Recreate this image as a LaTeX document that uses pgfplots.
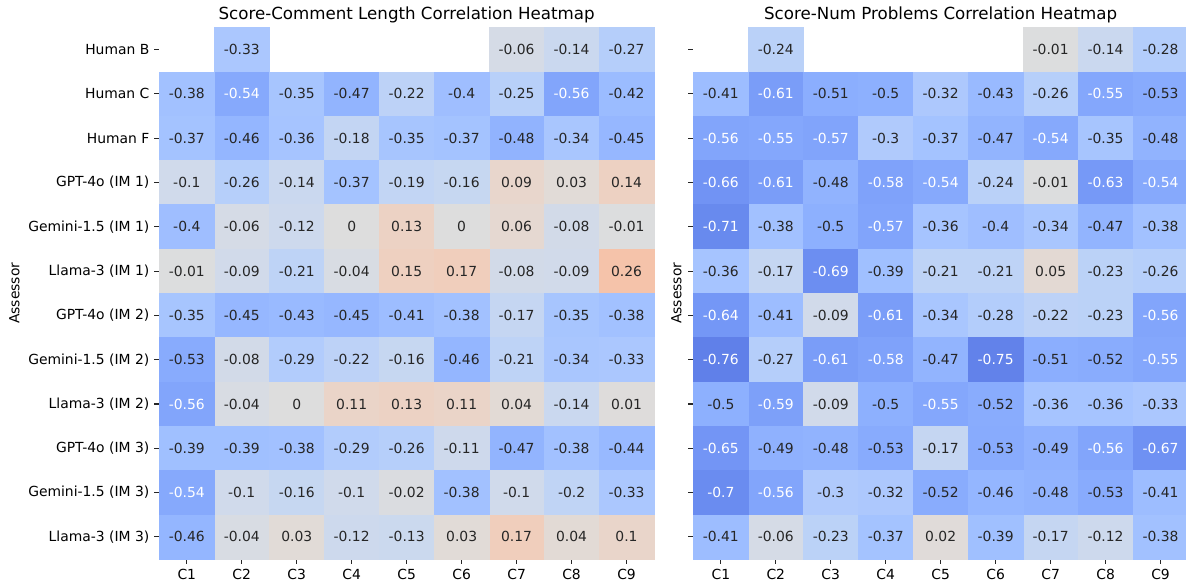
\documentclass[border=0pt]{standalone}
\usepackage{fontspec}
\setmainfont{DejaVu Sans}
\usepackage{pgfplots}
\usepackage{pgfplotstable}
\pgfplotsset{compat=1.18}

\definecolor{txt}{HTML}{262626}

\pgfplotsset{colormap={coolwarm}{
rgb255(0cm)=(59,76,192); rgb255(1cm)=(68,90,204); rgb255(2cm)=(77,104,215); rgb255(3cm)=(87,117,225);
rgb255(4cm)=(98,130,234); rgb255(5cm)=(108,142,241); rgb255(6cm)=(119,154,247); rgb255(7cm)=(130,165,251);
rgb255(8cm)=(141,176,254); rgb255(9cm)=(152,185,255); rgb255(10cm)=(163,194,255); rgb255(11cm)=(174,201,253);
rgb255(12cm)=(184,208,249); rgb255(13cm)=(194,213,244); rgb255(14cm)=(204,217,238); rgb255(15cm)=(213,219,230);
rgb255(16cm)=(221,221,221); rgb255(17cm)=(229,216,209); rgb255(18cm)=(236,211,197); rgb255(19cm)=(241,204,184);
rgb255(20cm)=(245,196,172); rgb255(21cm)=(247,187,160); rgb255(22cm)=(247,177,148); rgb255(23cm)=(247,166,135);
rgb255(24cm)=(244,154,123); rgb255(25cm)=(241,141,111); rgb255(26cm)=(236,127,99); rgb255(27cm)=(229,112,88);
rgb255(28cm)=(222,96,77); rgb255(29cm)=(213,80,66); rgb255(30cm)=(203,62,56); rgb255(31cm)=(192,40,47);
rgb255(32cm)=(180,4,38)}}

% Score-Comment Length
\pgfplotstableread{
row C1 C2 C3 C4 C5 C6 C7 C8 C9
0 nan -0.33 nan nan nan nan -0.06 -0.14 -0.27
1 -0.38 -0.54 -0.35 -0.47 -0.22 -0.4 -0.25 -0.56 -0.42
2 -0.37 -0.46 -0.36 -0.18 -0.35 -0.37 -0.48 -0.34 -0.45
3 -0.1 -0.26 -0.14 -0.37 -0.19 -0.16 0.09 0.03 0.14
4 -0.4 -0.06 -0.12 0 0.13 0 0.06 -0.08 -0.01
5 -0.01 -0.09 -0.21 -0.04 0.15 0.17 -0.08 -0.09 0.26
6 -0.35 -0.45 -0.43 -0.45 -0.41 -0.38 -0.17 -0.35 -0.38
7 -0.53 -0.08 -0.29 -0.22 -0.16 -0.46 -0.21 -0.34 -0.33
8 -0.56 -0.04 0 0.11 0.13 0.11 0.04 -0.14 0.01
9 -0.39 -0.39 -0.38 -0.29 -0.26 -0.11 -0.47 -0.38 -0.44
10 -0.54 -0.1 -0.16 -0.1 -0.02 -0.38 -0.1 -0.2 -0.33
11 -0.46 -0.04 0.03 -0.12 -0.13 0.03 0.17 0.04 0.1
}\tabA

% Score-Num Problems
\pgfplotstableread{
row C1 C2 C3 C4 C5 C6 C7 C8 C9
0 nan -0.24 nan nan nan nan -0.01 -0.14 -0.28
1 -0.41 -0.61 -0.51 -0.5 -0.32 -0.43 -0.26 -0.55 -0.53
2 -0.56 -0.55 -0.57 -0.3 -0.37 -0.47 -0.54 -0.35 -0.48
3 -0.66 -0.61 -0.48 -0.58 -0.54 -0.24 -0.01 -0.63 -0.54
4 -0.71 -0.38 -0.5 -0.57 -0.36 -0.4 -0.34 -0.47 -0.38
5 -0.36 -0.17 -0.69 -0.39 -0.21 -0.21 0.05 -0.23 -0.26
6 -0.64 -0.41 -0.09 -0.61 -0.34 -0.28 -0.22 -0.23 -0.56
7 -0.76 -0.27 -0.61 -0.58 -0.47 -0.75 -0.51 -0.52 -0.55
8 -0.5 -0.59 -0.09 -0.5 -0.55 -0.52 -0.36 -0.36 -0.33
9 -0.65 -0.49 -0.48 -0.53 -0.17 -0.53 -0.49 -0.56 -0.67
10 -0.7 -0.56 -0.3 -0.32 -0.52 -0.46 -0.48 -0.53 -0.41
11 -0.41 -0.06 -0.23 -0.37 0.02 -0.39 -0.17 -0.12 -0.38
}\tabB

\pgfplotsset{
  hm/.style={
    scale only axis, width=356.2pt, height=382.7pt,
    xmin=-0.5, xmax=8.5, ymin=-0.5, ymax=11.5, y dir=reverse,
    xtick={0,...,8}, xticklabels={C1,C2,C3,C4,C5,C6,C7,C8,C9},
    ytick={0,...,11},
    axis line style={draw=none},
    tick align=outside, major tick length=3.5pt,
    tick style={line width=0.8pt, color=txt},
    xtick pos=bottom, ytick pos=left,
    colormap name=coolwarm, point meta min=-1, point meta max=1,
    font=\fontsize{10}{12}\selectfont,
    xticklabel style={inner sep=0pt, anchor=north, yshift=-3.5pt, text=black},
    yticklabel style={inner sep=0pt, anchor=east, xshift=-3.5pt, text=black},
    title style={at={(axis description cs:0.5,1)}, anchor=base, yshift=0pt,
      font=\fontsize{12}{14.4}\selectfont},
    ylabel=Assessor,
    clip=false,
  },
  cells/.style={scatter, only marks, mark=square*, mark size=2pt,
    mark options={xscale=9.92, yscale=7.99, line width=0.2pt},
    point meta=explicit,
    scatter/use mapped color={draw=mapped color, fill=mapped color},
    nodes near coords*={\ifdim\pgfplotspointmetatransformed pt<232.5pt\color{white}\else\color{txt}\fi\pgfmathprintnumber[fixed,precision=2,assume math mode=true]{\pgfplotspointmeta}},
    nodes near coords align=center,
    every node near coord/.append style={font=\fontsize{10}{12}\selectfont, inner sep=0pt},
  },
}

\begin{document}
\begin{tikzpicture}
\useasboundingbox (0,0) rectangle (853.92pt,419.76pt);
\begin{axis}[hm, at={(114.7pt,17.28pt)}, anchor=south west,
  title={Score-Comment Length Correlation Heatmap},
  yticklabels={Human B,Human C,Human F,GPT-4o (IM 1),Gemini-1.5 (IM 1),Llama-3 (IM 1),GPT-4o (IM 2),Gemini-1.5 (IM 2),Llama-3 (IM 2),GPT-4o (IM 3),Gemini-1.5 (IM 3),Llama-3 (IM 3)},
  ylabel style={at={(axis description cs:-0.2927,0.5)}, anchor=center},
]
\pgfplotsinvokeforeach{2,7,8,9}{
  \addplot[cells] table[x expr=#1-1, y=row, meta=C#1] {\tabA};
}
\pgfplotsinvokeforeach{1,3,4,5,6}{
  \addplot[cells, skip coords between index={0}{1}] table[x expr=#1-1, y=row, meta=C#1] {\tabA};
}
\end{axis}
\begin{axis}[hm, at={(499.2pt,17.28pt)}, anchor=south west,
  title={Score-Num Problems Correlation Heatmap},
  yticklabels={},
  ylabel style={at={(axis description cs:-0.034,0.5)}, anchor=center},
]
\pgfplotsinvokeforeach{2,7,8,9}{
  \addplot[cells] table[x expr=#1-1, y=row, meta=C#1] {\tabB};
}
\pgfplotsinvokeforeach{1,3,4,5,6}{
  \addplot[cells, skip coords between index={0}{1}] table[x expr=#1-1, y=row, meta=C#1] {\tabB};
}
\end{axis}
\end{tikzpicture}
\end{document}
